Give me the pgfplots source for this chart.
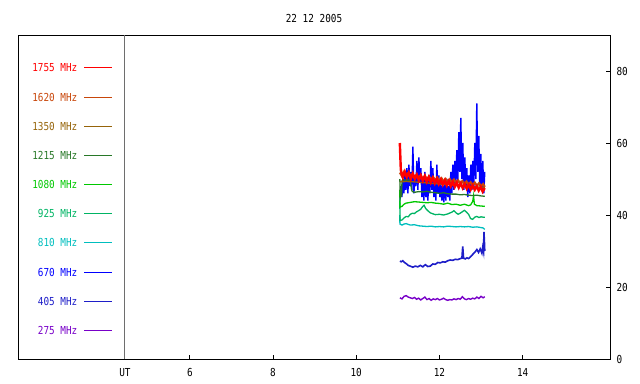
\documentclass[border=0pt]{standalone}
\usepackage{fontspec}
\setmonofont[FakeStretch=0.85]{DejaVu Sans Mono}
\usepackage{pgfplots}
\pgfplotsset{compat=1.18}
\newcommand\pf{\ttfamily\fontsize{11bp}{13bp}\selectfont}
\definecolor{c1755}{RGB}{255,0,0}
\definecolor{c1620}{RGB}{200,70,10}
\definecolor{c1350}{RGB}{150,100,10}
\definecolor{c1215}{RGB}{40,120,40}
\definecolor{c1080}{RGB}{0,200,0}
\definecolor{c925}{RGB}{0,180,100}
\definecolor{c810}{RGB}{0,190,190}
\definecolor{c670}{RGB}{0,0,255}
\definecolor{c405}{RGB}{30,30,200}
\definecolor{c275}{RGB}{120,0,200}
\definecolor{utgray}{RGB}{110,110,110}
\newcommand\leg[3]{%
  \draw[draw=#1, line width=1.2bp] (axis cs:3.46,#2) -- (axis cs:4.13,#2);
  \node[anchor=east, text=#1, font=\pf, inner sep=0pt] at (axis cs:3.30,#2) {#3};}
\begin{document}
\begin{tikzpicture}
\path[use as bounding box] (-18bp,-25bp) rectangle (622bp,359bp);
\begin{axis}[at={(0,0)}, anchor=south west, scale only axis,
  width=592bp, height=324bp,
  xmin=1.87, xmax=16.1, ymin=0, ymax=90, clip=false,
  xtick={6,8,10,12,14}, ytick={0,20,40,60,80},
  xtick pos=left, ytick pos=right, yticklabel pos=right,
  tick align=inside, major tick length=4bp,
  tick style={black, line width=0.8bp},
  axis line style={line width=1bp},
  tick label style={font=\pf},
  /pgf/number format/assume math mode=true,
  xticklabel style={yshift=-6bp},
  yticklabel style={xshift=3bp, anchor=west},
  every axis plot/.append style={line width=1bp, mark=none},
]
\draw[utgray, line width=1bp] (axis cs:4.44,0) -- (axis cs:4.44,90);
\node[font=\pf, anchor=north, yshift=-6bp] at (axis cs:4.44,0) {UT};
\node[font=\pf] at (rel axis cs:0.5,1) [yshift=17bp] {22 12 2005};

\leg{c1755}{80.97}{1755 MHz}
\leg{c1620}{72.64}{1620 MHz}
\leg{c1350}{64.58}{1350 MHz}
\leg{c1215}{56.53}{1215 MHz}
\leg{c1080}{48.47}{1080 MHz}
\leg{c925}{40.42}{925 MHz}
\leg{c810}{32.36}{810 MHz}
\leg{c670}{24.03}{670 MHz}
\leg{c405}{15.97}{405 MHz}
\leg{c275}{7.92}{275 MHz}

% 275 MHz
\addplot[c275, line width=1.4bp] coordinates {
(11.05,17) (11.1,16.7) (11.15,17.4) (11.2,17.6) (11.25,17.2) (11.3,17) (11.35,16.8) (11.4,17.1)
(11.45,16.6) (11.5,16.9) (11.55,16.4) (11.6,16.8) (11.65,17.2) (11.7,16.5) (11.75,16.8) (11.8,16.3)
(11.85,16.7) (11.9,16.5) (11.95,16.8) (12.0,16.4) (12.05,16.6) (12.1,16.9) (12.15,16.5) (12.2,16.3)
(12.25,16.5) (12.3,16.4) (12.35,16.7) (12.4,16.5) (12.45,16.8) (12.5,16.6) (12.55,17.3) (12.6,16.7)
(12.65,16.5) (12.7,16.8) (12.75,16.6) (12.8,16.9) (12.85,16.7) (12.9,17.2) (12.95,16.8) (13.0,17.4)
(13.05,17) (13.09,17.3)};
% 405 MHz
\addplot[c405, line width=1.6bp] coordinates {
(11.05,27.2) (11.08,27) (11.12,27.3) (11.16,26.8) (11.2,26.5) (11.25,26) (11.3,25.8) (11.36,25.5)
(11.42,25.8) (11.48,25.6) (11.54,26) (11.6,25.6) (11.66,26.2) (11.72,25.7) (11.78,25.8) (11.84,26.4)
(11.9,26.3) (11.96,26.8) (12.02,26.7) (12.08,27) (12.14,26.9) (12.2,27.3) (12.26,27.5) (12.32,27.4)
(12.38,27.7) (12.44,27.6) (12.5,27.9) (12.54,28) (12.56,31.3) (12.58,28) (12.62,27.8) (12.66,28.1)
(12.7,27.9) (12.74,28.3) (12.78,28.8) (12.82,29.3) (12.86,29.8) (12.9,30.4) (12.94,29.6) (12.98,30.6)
(13.02,29.4) (13.04,31) (13.06,29.8) (13.07,35.3) (13.08,33) (13.09,30)};
% 670 MHz
\addplot[c670, line width=1.4bp] coordinates {
(11.050,44) (11.074,48) (11.098,45) (11.122,50) (11.146,46) (11.170,52) (11.194,47) (11.218,53)
(11.242,46) (11.266,54) (11.290,48) (11.314,52) (11.338,47) (11.362,59) (11.386,46) (11.410,51)
(11.434,48) (11.458,55) (11.482,47) (11.506,56) (11.530,49) (11.554,53) (11.578,45) (11.602,50)
(11.626,44) (11.650,52) (11.674,45) (11.698,49) (11.722,44) (11.746,51) (11.770,46) (11.794,55)
(11.818,47) (11.842,53) (11.866,45) (11.890,50) (11.914,44) (11.938,54) (11.962,46) (11.986,51)
(12.010,45) (12.034,49) (12.058,44) (12.082,48) (12.106,43.5) (12.130,49) (12.154,44) (12.178,50)
(12.202,45) (12.226,48) (12.250,44) (12.274,52) (12.298,46) (12.322,54) (12.346,47) (12.370,55)
(12.394,48) (12.418,58) (12.442,49) (12.466,63) (12.490,52) (12.514,67) (12.538,50) (12.562,60)
(12.586,47) (12.610,56) (12.634,48) (12.658,53) (12.682,45) (12.706,51) (12.730,46) (12.754,54)
(12.778,47) (12.802,55) (12.826,48) (12.850,60) (12.874,50) (12.898,71) (12.922,52) (12.946,62)
(12.970,48) (12.994,57) (13.018,47) (13.042,55) (13.066,46) (13.090,52)};
% 810 MHz
\addplot[c810, line width=1.3bp] coordinates {
(11.048,40) (11.05,37.5) (11.1,37.2) (11.15,37.5) (11.2,37.6) (11.25,37.4) (11.3,37.2) (11.4,37.3)
(11.5,37) (11.6,36.9) (11.7,36.8) (11.8,36.9) (11.9,36.7) (12.0,36.8) (12.1,36.7) (12.2,36.9)
(12.3,36.8) (12.4,36.7) (12.5,36.8) (12.6,36.7) (12.7,36.8) (12.8,36.6) (12.9,36.7) (13.0,36.5)
(13.05,36.4) (13.09,36)};
% 925 MHz
\addplot[c925, line width=1.3bp] coordinates {
(11.048,44) (11.052,38.5) (11.1,38.6) (11.15,39.2) (11.2,39.6) (11.25,39.5) (11.3,40.2) (11.35,40.5)
(11.4,40.4) (11.45,40.9) (11.5,41.2) (11.55,41.6) (11.6,42.4) (11.63,42.7) (11.67,41.8) (11.72,41.2)
(11.78,40.6) (11.85,40.3) (11.9,40.1) (12.0,40.2) (12.1,40) (12.2,40.3) (12.3,40.8) (12.35,41.2)
(12.4,40.6) (12.45,40.2) (12.5,40.5) (12.55,40.9) (12.6,41.3) (12.65,40.8) (12.7,40.2) (12.75,39)
(12.8,38.8) (12.85,39.4) (12.9,39.6) (12.95,39.3) (13.0,39.5) (13.05,39.4) (13.09,39.4)};
% 1080 MHz
\addplot[c1080, line width=1.3bp] coordinates {
(11.048,47) (11.052,42.2) (11.1,42.4) (11.15,43) (11.2,43.3) (11.3,43.5) (11.4,43.7) (11.5,43.6)
(11.6,43.5) (11.7,43.4) (11.8,43.5) (11.9,43.3) (12.0,43.2) (12.1,43) (12.2,43.3) (12.3,42.9)
(12.4,43) (12.5,42.7) (12.6,43) (12.7,42.6) (12.75,42.8) (12.8,43.8) (12.82,45.3) (12.84,43)
(12.9,42.6) (13.0,42.5) (13.09,42.4)};
% 1215 MHz
\addplot[c1215, line width=1.3bp] coordinates {
(11.048,50) (11.06,45) (11.09,45.2) (11.1,49.5) (11.15,49.8) (11.2,49.6) (11.25,49.8) (11.3,49.5)
(11.33,47) (11.35,46.5) (11.4,46.3) (11.5,46.5) (11.6,46.4) (11.7,46.6) (11.8,46.3) (11.9,46.2)
(12.0,46) (12.1,46.2) (12.2,45.9) (12.3,45.8) (12.4,45.8) (12.5,45.6) (12.6,45.7) (12.7,45.5)
(12.8,45.4) (12.9,45.5) (13.0,45.3) (13.09,45.2)};
% 1350 MHz
\addplot[c1350, line width=1.3bp] coordinates {
(11.05,49.2) (11.2,49.3) (11.4,49.2) (11.6,49) (11.8,48.8) (12.0,48.6) (12.2,48.4) (12.4,48.3)
(12.6,48.1) (12.8,47.9) (13.0,47.7) (13.09,47.6)};
% 1620 MHz
\addplot[c1620, line width=2.2bp] coordinates {
(11.05,51.8) (11.10,50.8) (11.15,52) (11.2,50.9) (11.25,51.6) (11.3,50.5) (11.35,51.4) (11.4,50.4)
(11.45,51.2) (11.5,50.2) (11.55,51) (11.6,50) (11.65,50.9) (11.7,49.9) (11.75,50.7) (11.8,49.8)
(11.85,50.5) (11.9,49.6) (11.95,50.4) (12.0,49.5) (12.05,50.2) (12.1,49.3) (12.15,50) (12.2,49.2)
(12.25,49.9) (12.3,49) (12.35,49.8) (12.4,48.9) (12.45,49.6) (12.5,48.7) (12.55,49.4) (12.6,48.6)
(12.65,49.3) (12.7,48.4) (12.75,49.1) (12.8,48.3) (12.85,49) (12.9,48.1) (12.95,48.8) (13.0,48)
(13.05,48.6) (13.09,47.8)};
% 1755 MHz
\addplot[c1755, line width=2.4bp] coordinates {
(11.048,60) (11.072,52.5) (11.120,50.5) (11.168,52) (11.216,50.5) (11.264,51.8) (11.312,50) (11.360,51.5)
(11.408,50) (11.456,51.2) (11.504,49.6) (11.552,51) (11.600,49.5) (11.648,50.8) (11.696,49.2) (11.744,50.5)
(11.792,49) (11.840,50.3) (11.888,48.8) (11.936,50) (11.984,48.6) (12.032,49.8) (12.080,48.4) (12.128,49.6)
(12.176,48.2) (12.224,49.4) (12.272,48) (12.320,49.2) (12.368,47.8) (12.416,49) (12.464,47.6) (12.512,48.8)
(12.560,47.5) (12.608,48.6) (12.656,47.3) (12.704,48.4) (12.752,47.1) (12.800,48.2) (12.848,47) (12.896,48)
(12.944,46.8) (12.992,47.8) (13.040,46.5) (13.088,47.5)};
\end{axis}
\end{tikzpicture}
\end{document}
